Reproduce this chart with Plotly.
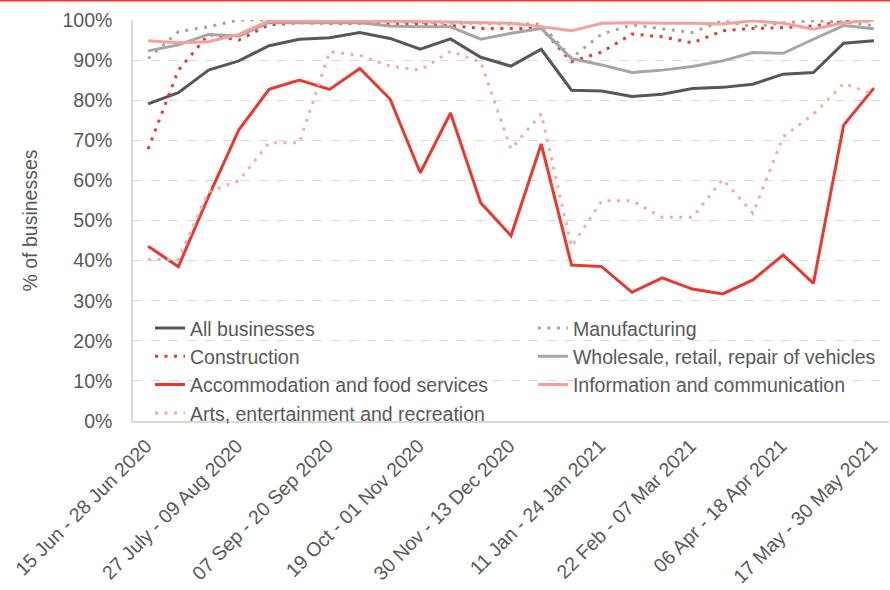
import plotly.graph_objects as go

periods = [
    "15 Jun - 28 Jun 2020", "29 Jun - 12 Jul 2020", "13 Jul - 26 Jul 2020",
    "27 July - 09 Aug 2020", "10 Aug - 23 Aug 2020", "24 Aug - 06 Sep 2020",
    "07 Sep - 20 Sep 2020", "21 Sep - 04 Oct 2020", "05 Oct - 18 Oct 2020",
    "19 Oct - 01 Nov 2020", "02 Nov - 15 Nov 2020", "16 Nov - 29 Nov 2020",
    "30 Nov - 13 Dec 2020", "14 Dec - 27 Dec 2020", "28 Dec - 10 Jan 2021",
    "11 Jan - 24 Jan 2021", "25 Jan - 07 Feb 2021", "08 Feb - 21 Feb 2021",
    "22 Feb - 07 Mar 2021", "08 Mar - 21 Mar 2021", "22 Mar - 04 Apr 2021",
    "06 Apr - 18 Apr 2021", "19 Apr - 02 May 2021", "03 May - 16 May 2021",
    "17 May - 30 May 2021",
]
tick_periods = periods[::3]

all_businesses = [79.1, 81.9, 87.5, 89.8, 93.6, 95.2, 95.6, 96.9, 95.4, 92.7, 95.3, 90.7, 88.5,
                  92.7, 82.5, 82.3, 80.9, 81.5, 82.9, 83.2, 84.0, 86.5, 86.9, 94.2, 94.8]
manufacturing = [90.4, 97.1, 98.3, 100, 100, 100, 100, 100, 99.6, 99.4, 99.2, 99.2, 99.0,
                 99.0, 90.5, 96.5, 98.8, 97.8, 96.9, 99.8, 98.3, 99.3, 99.8, 99.5, 98.6]
construction = [67.8, 87.5, 96.4, 95.0, 98.8, 99.3, 99.2, 99.2, 99.0, 99.0, 98.6, 97.9, 97.9,
                97.9, 89.6, 92.0, 96.5, 95.8, 94.3, 97.3, 97.9, 98.1, 98.5, 99.6, 99.8]
wholesale = [92.3, 93.8, 96.4, 96.0, 99.4, 99.3, 99.4, 99.3, 98.5, 98.3, 98.3, 95.2, 96.7,
             97.9, 90.4, 88.8, 86.9, 87.5, 88.4, 89.8, 91.9, 91.7, 95.2, 98.6, 97.8]
accommodation = [43.6, 38.5, 56.0, 72.6, 82.7, 85.0, 82.7, 87.9, 80.3, 61.9, 76.8, 54.4, 46.2,
                 69.1, 38.9, 38.5, 32.1, 35.7, 32.9, 31.7, 35.2, 41.4, 34.3, 73.8, 83.0]
information = [94.8, 94.3, 94.6, 96.4, 99.8, 99.8, 99.8, 99.8, 99.7, 99.6, 99.5, 99.4, 99.2,
               98.3, 97.3, 99.2, 99.3, 99.2, 99.2, 99.0, 99.8, 99.2, 97.7, 99.3, 100]
arts = [40.3, 40.3, 57.2, 59.9, 69.4, 69.4, 92.1, 91.2, 88.5, 87.5, 92.2, 89.5, 67.8,
        76.6, 43.5, 54.9, 54.9, 50.8, 50.8, 60.3, 51.8, 70.9, 76.5, 84.2, 81.4]

FONT = "Liberation Sans, Arial, sans-serif"
TEXT = "#595959"
GRID = "#D9D9D9"
FS = 19.5
DOTS = "3px,6.5px"  # Excel-style round dots, spaced out

# (name, values, colour, dash, legend column)
series = [
    ("All businesses", all_businesses, "#575757", "solid", "legend"),
    ("Manufacturing", manufacturing, "#A6A6A6", DOTS, "legend2"),
    ("Construction", construction, "#E8392F", DOTS, "legend"),
    ("Wholesale, retail, repair of vehicles", wholesale, "#A6A6A6", "solid", "legend2"),
    ("Accommodation and food services", accommodation, "#E8392F", "solid", "legend"),
    ("Information and communication", information, "#F4A09B", "solid", "legend2"),
    ("Arts, entertainment and recreation", arts, "#F5ABA6", DOTS, "legend"),
]

fig = go.Figure()
for name, vals, colour, dash, leg in series:
    fig.add_trace(go.Scatter(
        x=periods, y=vals, name=name, mode="lines", legend=leg,
        line=dict(color=colour, width=3, dash=dash),
    ))

legend_style = dict(
    orientation="v", yanchor="top", xanchor="left", traceorder="normal",
    bgcolor="rgba(0,0,0,0)", font=dict(size=FS, color=TEXT), itemwidth=30,
)

fig.update_layout(
    width=890, height=590,
    margin=dict(l=133, r=1, t=20, b=169),
    paper_bgcolor="white", plot_bgcolor="white",
    font=dict(family=FONT, size=FS, color=TEXT),
    showlegend=True,
    legend=dict(x=0.0225, y=0.28, **legend_style),
    legend2=dict(x=0.529, y=0.28, **legend_style),
    xaxis=dict(
        type="category", range=[-0.5, len(periods) - 0.5],
        tickmode="array", tickvals=tick_periods, ticktext=tick_periods,
        tickangle=-45, showgrid=False, showline=True, linecolor=GRID, linewidth=1.5,
        ticks="", ticklabelstandoff=4, ticklabelshift=-2, automargin=False,
        tickfont=dict(size=FS, color=TEXT),
    ),
    yaxis=dict(
        range=[0, 100], dtick=10, ticksuffix="%", showgrid=True, gridcolor=GRID,
        griddash="dash", gridwidth=1, showline=True, linecolor=GRID, linewidth=1.5,
        ticks="", ticklabelstandoff=15, zeroline=False, automargin=False,
        title=dict(text="% of businesses", standoff=20, font=dict(size=FS, color=TEXT)),
        tickfont=dict(size=FS, color=TEXT),
    ),
)

# thin red rule along the very top of the image
fig.add_shape(type="line", xref="paper", yref="paper",
              x0=-133 / 756, x1=1 + 1 / 756, y0=1 + 19.2 / 401, y1=1 + 19.2 / 401,
              line=dict(color="#E8392F", width=1.5))

# drop the browser's default 8px body margin so the figure fills the window exactly
fig.write_html("out.html", config={"displayModeBar": False},
               post_script="document.body.style.margin='0';")
